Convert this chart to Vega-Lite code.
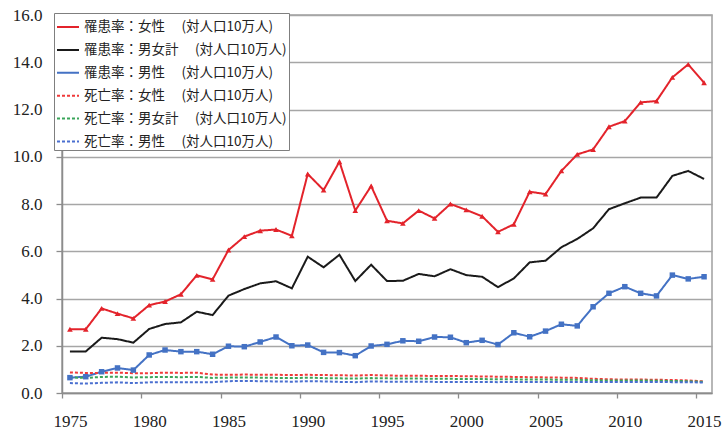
{
  "$schema": "https://vega.github.io/schema/vega-lite/v6.json",
  "autosize": {"type": "none"},
  "width": 650,
  "height": 378,
  "padding": {"left": 62, "top": 15, "right": 14, "bottom": 41},
  "background": "white",
  "config": {
    "view": {"stroke": "#a0a0a0", "strokeWidth": 1.5},
    "font": "Liberation Sans"
  },
  "datasets": {
    "rates": [
      {"y":1975,"f":2.70,"t":1.76,"m":0.65,"df":0.87,"dt":0.66,"dm":0.42},
      {"y":1976,"f":2.70,"t":1.76,"m":0.69,"df":0.85,"dt":0.64,"dm":0.40},
      {"y":1977,"f":3.58,"t":2.34,"m":0.90,"df":0.85,"dt":0.68,"dm":0.43},
      {"y":1978,"f":3.36,"t":2.28,"m":1.06,"df":0.86,"dt":0.69,"dm":0.45},
      {"y":1979,"f":3.16,"t":2.13,"m":0.97,"df":0.84,"dt":0.66,"dm":0.42},
      {"y":1980,"f":3.72,"t":2.71,"m":1.61,"df":0.84,"dt":0.67,"dm":0.45},
      {"y":1981,"f":3.87,"t":2.92,"m":1.82,"df":0.86,"dt":0.68,"dm":0.46},
      {"y":1982,"f":4.18,"t":2.99,"m":1.75,"df":0.85,"dt":0.67,"dm":0.45},
      {"y":1983,"f":4.98,"t":3.44,"m":1.75,"df":0.86,"dt":0.68,"dm":0.45},
      {"y":1984,"f":4.81,"t":3.30,"m":1.64,"df":0.78,"dt":0.64,"dm":0.46},
      {"y":1985,"f":6.05,"t":4.12,"m":1.98,"df":0.77,"dt":0.65,"dm":0.50},
      {"y":1986,"f":6.62,"t":4.40,"m":1.96,"df":0.78,"dt":0.66,"dm":0.51},
      {"y":1987,"f":6.87,"t":4.64,"m":2.16,"df":0.77,"dt":0.65,"dm":0.50},
      {"y":1988,"f":6.92,"t":4.73,"m":2.37,"df":0.77,"dt":0.64,"dm":0.49},
      {"y":1989,"f":6.65,"t":4.43,"m":2.00,"df":0.76,"dt":0.63,"dm":0.48},
      {"y":1990,"f":9.27,"t":5.77,"m":2.03,"df":0.77,"dt":0.65,"dm":0.50},
      {"y":1991,"f":8.59,"t":5.32,"m":1.72,"df":0.76,"dt":0.63,"dm":0.49},
      {"y":1992,"f":9.79,"t":5.85,"m":1.71,"df":0.75,"dt":0.62,"dm":0.47},
      {"y":1993,"f":7.72,"t":4.74,"m":1.58,"df":0.74,"dt":0.61,"dm":0.46},
      {"y":1994,"f":8.76,"t":5.43,"m":1.99,"df":0.76,"dt":0.63,"dm":0.49},
      {"y":1995,"f":7.29,"t":4.74,"m":2.06,"df":0.74,"dt":0.62,"dm":0.48},
      {"y":1996,"f":7.18,"t":4.75,"m":2.21,"df":0.73,"dt":0.61,"dm":0.48},
      {"y":1997,"f":7.72,"t":5.04,"m":2.19,"df":0.73,"dt":0.61,"dm":0.48},
      {"y":1998,"f":7.39,"t":4.94,"m":2.37,"df":0.72,"dt":0.60,"dm":0.47},
      {"y":1999,"f":8.00,"t":5.24,"m":2.36,"df":0.72,"dt":0.60,"dm":0.47},
      {"y":2000,"f":7.75,"t":4.99,"m":2.13,"df":0.71,"dt":0.59,"dm":0.47},
      {"y":2001,"f":7.48,"t":4.92,"m":2.23,"df":0.70,"dt":0.59,"dm":0.47},
      {"y":2002,"f":6.82,"t":4.48,"m":2.05,"df":0.69,"dt":0.58,"dm":0.46},
      {"y":2003,"f":7.14,"t":4.85,"m":2.55,"df":0.68,"dt":0.58,"dm":0.47},
      {"y":2004,"f":8.52,"t":5.53,"m":2.38,"df":0.67,"dt":0.57,"dm":0.47},
      {"y":2005,"f":8.42,"t":5.60,"m":2.62,"df":0.66,"dt":0.57,"dm":0.47},
      {"y":2006,"f":9.40,"t":6.17,"m":2.91,"df":0.65,"dt":0.56,"dm":0.47},
      {"y":2007,"f":10.10,"t":6.52,"m":2.84,"df":0.64,"dt":0.56,"dm":0.47},
      {"y":2008,"f":10.31,"t":6.97,"m":3.65,"df":0.60,"dt":0.54,"dm":0.47},
      {"y":2009,"f":11.27,"t":7.78,"m":4.22,"df":0.58,"dt":0.53,"dm":0.47},
      {"y":2010,"f":11.51,"t":8.03,"m":4.50,"df":0.57,"dt":0.53,"dm":0.47},
      {"y":2011,"f":12.30,"t":8.27,"m":4.22,"df":0.57,"dt":0.53,"dm":0.47},
      {"y":2012,"f":12.36,"t":8.27,"m":4.11,"df":0.56,"dt":0.52,"dm":0.47},
      {"y":2013,"f":13.36,"t":9.19,"m":4.99,"df":0.55,"dt":0.51,"dm":0.46},
      {"y":2014,"f":13.91,"t":9.40,"m":4.83,"df":0.53,"dt":0.50,"dm":0.46},
      {"y":2015,"f":13.13,"t":9.06,"m":4.92,"df":0.49,"dt":0.47,"dm":0.44}
    ],
    "names": [
      {"key":"f","label":"罹患率：女性　 (対人口10万人)"},
      {"key":"t","label":"罹患率：男女計　 (対人口10万人)"},
      {"key":"m","label":"罹患率：男性　 (対人口10万人)"},
      {"key":"df","label":"死亡率：女性　 (対人口10万人)"},
      {"key":"dt","label":"死亡率：男女計　 (対人口10万人)"},
      {"key":"dm","label":"死亡率：男性　 (対人口10万人)"}
    ]
  },
  "data": {"name": "rates"},
  "transform": [
    {"fold": ["f","t","m","df","dt","dm"], "as": ["key","value"]},
    {"lookup": "key", "from": {"data": {"name": "names"}, "key": "key", "fields": ["label"]}}
  ],
  "encoding": {
    "x": {
      "field": "y", "type": "quantitative",
      "scale": {"domain": [1974.5, 2015.5], "nice": false, "zero": false},
      "axis": {
        "title": null,
        "values": [1975,1980,1985,1990,1995,2000,2005,2010,2015],
        "format": "d",
        "grid": false,
        "domainColor": "#8c8c8c", "domainWidth": 1.5,
        "tickColor": "#8c8c8c", "tickWidth": 1.3, "tickSize": 5,
        "tickOffset": -7.93, "labelOffset": 7.93,
        "labelPadding": 15,
        "labelFont": "Liberation Sans Narrow", "labelFontSize": 17, "labelColor": "#222222"
      }
    },
    "y": {
      "field": "value", "type": "quantitative",
      "scale": {"domain": [0, 16], "nice": false},
      "axis": {
        "title": null,
        "values": [0,2,4,6,8,10,12,14,16],
        "format": ".1f",
        "grid": true, "gridColor": "#a6a6a6", "gridWidth": 1.4,
        "domainColor": "#8c8c8c", "domainWidth": 1.5,
        "tickColor": "#8c8c8c", "tickWidth": 1.3, "tickSize": 6,
        "labelPadding": 14,
        "labelFont": "Liberation Sans Narrow", "labelFontSize": 17, "labelColor": "#222222"
      }
    }
  },
  "layer": [
    {
      "mark": {"type": "line", "strokeWidth": 2},
      "encoding": {
        "color": {
          "field": "label", "type": "nominal",
          "scale": {
            "domain": ["罹患率：女性　 (対人口10万人)","罹患率：男女計　 (対人口10万人)","罹患率：男性　 (対人口10万人)","死亡率：女性　 (対人口10万人)","死亡率：男女計　 (対人口10万人)","死亡率：男性　 (対人口10万人)"],
            "range": ["#e3232b","#1a1a1a","#4472c4","#f03a3a","#3aa55a","#4a6fd0"]
          },
          "legend": {
            "title": null,
            "orient": "none", "legendX": -8, "legendY": -2,
            "symbolType": "stroke", "symbolSize": 484, "symbolStrokeWidth": 2,
            "labelFont": "Noto Sans CJK JP", "labelFontSize": 13.5, "labelColor": "#222222",
            "labelOffset": 4, "rowPadding": 3.9, "padding": 2,
            "fillColor": "white", "strokeColor": "#7f7f7f", "labelLimit": 400
          }
        },
        "strokeDash": {
          "field": "label", "type": "nominal",
          "scale": {
            "domain": ["罹患率：女性　 (対人口10万人)","罹患率：男女計　 (対人口10万人)","罹患率：男性　 (対人口10万人)","死亡率：女性　 (対人口10万人)","死亡率：男女計　 (対人口10万人)","死亡率：男性　 (対人口10万人)"],
            "range": [[1,0],[1,0],[1,0],[3,2],[3,2],[3,2]]
          },
          "legend": null
        },
        "order": {"field": "y", "type": "quantitative"}
      }
    },
    {
      "transform": [{"filter": "datum.key === 'f'"}],
      "mark": {"type": "point", "shape": "triangle-up", "filled": true, "size": 32, "color": "#e3232b", "opacity": 1},
      "encoding": {}
    },
    {
      "transform": [{"filter": "datum.key === 'm'"}],
      "mark": {"type": "point", "shape": "square", "filled": true, "size": 30, "color": "#4472c4", "opacity": 1},
      "encoding": {}
    }
  ]
}
